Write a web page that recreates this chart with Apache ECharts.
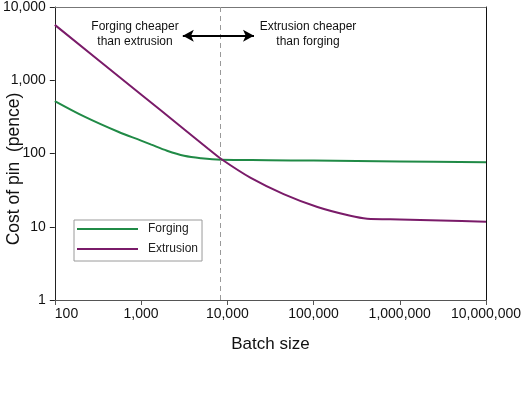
<!DOCTYPE html>
<html>
<head>
<meta charset="utf-8">
<script src="https://cdn.jsdelivr.net/npm/echarts@6/dist/echarts.min.js"></script>
<style>html,body{margin:0;padding:0;background:#fff}#c{width:528px;height:394px}</style>
</head>
<body>
<div id="c"></div>
<script>
// Data (batch size, cost in pence)
const forgingX = [100, 224, 543, 1000, 1315, 2000, 3160, 4970, 8430, 30000, 100000, 1000000, 10000000];
const forgingY = [520, 316, 198, 150, 132, 109, 93, 86, 82, 81, 80, 78, 76];
const extrusionX = [100, 1000, 3000, 6000, 8500, 18700, 45000, 111000, 267000, 419000, 1000000, 3000000, 10000000];
const extrusionY = [5700, 640, 225, 116, 84, 46.4, 27.9, 18.6, 14.1, 12.9, 12.6, 12.2, 11.7];
const dividerX = 8200;
const arrowFrom = [3050, 4050];
const arrowTo = [20400, 4050];
const xTicks = [100, 1000, 10000, 100000, 1000000, 10000000];
const yTicks = [1, 10, 100, 1000, 10000];

const FONT = 'Liberation Sans, Arial, sans-serif';
const fmt = v => Math.round(v).toLocaleString('en-US');

const chart = echarts.init(document.getElementById('c'));
chart.setOption({
  animation: false,
  grid: { left: 53, right: 42, top: 4, bottom: 94 },
  legend: {
    orient: 'vertical', left: 74, top: 220,
    padding: [3, 4, 6, 3], itemGap: 8, itemWidth: 61, itemHeight: 14,
    icon: 'path://M0,6H61V8H0Z',
    borderColor: '#9a9a9a', borderWidth: 1,
    textStyle: { fontFamily: FONT, fontSize: 12, color: '#222', padding: [0, 0, 0, 5] },
    data: ['Forging', 'Extrusion']
  },
  xAxis: [{
    type: 'log', logBase: 10, min: xTicks[0], max: xTicks[xTicks.length - 1],
    name: 'Batch size', nameLocation: 'middle', nameGap: 36,
    nameTextStyle: { fontFamily: FONT, fontSize: 17, color: '#111' },
    axisLine: { lineStyle: { color: '#555', width: 1 } },
    axisTick: { show: true, length: 5, lineStyle: { color: '#555' } },
    minorTick: { show: false },
    splitLine: { show: false },
    axisLabel: { fontFamily: FONT, fontSize: 14, color: '#111', margin: 7, formatter: fmt, alignMinLabel: 'left' }
  }, {
    type: 'log', logBase: 10, min: xTicks[0], max: xTicks[xTicks.length - 1], position: 'top',
    axisLine: { show: true, lineStyle: { color: '#777', width: 1 } },
    axisTick: { show: false }, axisLabel: { show: false }, splitLine: { show: false }
  }],
  yAxis: [{
    type: 'log', logBase: 10, min: yTicks[0], max: yTicks[yTicks.length - 1],
    axisLine: { show: true, lineStyle: { color: '#222', width: 1 } },
    axisTick: { show: true, length: 5, lineStyle: { color: '#222' } },
    splitLine: { show: false },
    axisLabel: { fontFamily: FONT, fontSize: 14, color: '#111', margin: 9, formatter: fmt }
  }, {
    type: 'log', logBase: 10, min: yTicks[0], max: yTicks[yTicks.length - 1], position: 'right',
    axisLine: { show: true, lineStyle: { color: '#111', width: 1 } },
    axisTick: { show: false }, axisLabel: { show: false }, splitLine: { show: false }
  }],
  graphic: [
    { type: 'text', x: 14, y: 169, rotation: Math.PI / 2,
      style: { text: 'Cost of pin  (pence)', fontFamily: FONT, fontSize: 17.5, fill: '#111',
               textAlign: 'center', textVerticalAlign: 'middle' } },
    { type: 'text', x: 135, y: 34,
      style: { text: 'Forging cheaper\nthan extrusion', fontFamily: FONT, fontSize: 12, lineHeight: 15,
               fill: '#111', textAlign: 'center', textVerticalAlign: 'middle' } },
    { type: 'text', x: 308, y: 34,
      style: { text: 'Extrusion cheaper\nthan forging', fontFamily: FONT, fontSize: 12, lineHeight: 15,
               fill: '#111', textAlign: 'center', textVerticalAlign: 'middle' } }
  ],
  series: [{
    name: 'Forging', type: 'line', symbol: 'none', smooth: 0.35,
    lineStyle: { color: '#208a46', width: 2 }, itemStyle: { color: '#208a46' },
    data: forgingX.map((x, i) => [x, forgingY[i]]),
    markLine: {
      silent: true, symbol: ['none', 'none'], label: { show: false },
      lineStyle: { color: '#999', type: [5, 4], width: 1 },
      data: [{ xAxis: dividerX }]
    }
  }, {
    name: 'Extrusion', type: 'line', symbol: 'none', smooth: 0.25,
    lineStyle: { color: '#7a1b69', width: 2 }, itemStyle: { color: '#7a1b69' },
    data: extrusionX.map((x, i) => [x, extrusionY[i]]),
    markLine: {
      silent: true, symbol: ['arrow', 'arrow'], symbolSize: [9, 11], label: { show: false },
      lineStyle: { color: '#000', type: 'solid', width: 2 },
      data: [[{ coord: arrowFrom }, { coord: arrowTo }]]
    }
  }]
});
</script>
</body>
</html>
